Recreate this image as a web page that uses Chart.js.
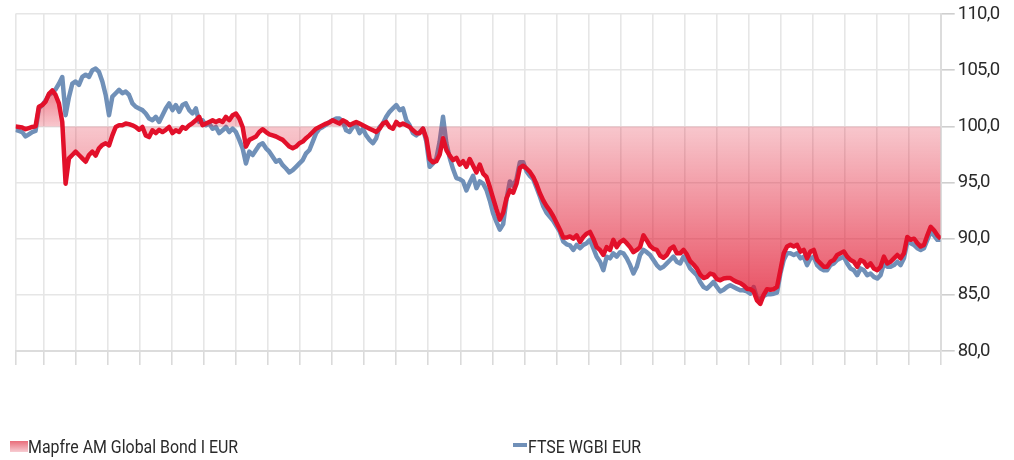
<!DOCTYPE html>
<html>
<head>
<meta charset="utf-8">
<script src="https://cdn.jsdelivr.net/npm/chart.js@4.4.1/dist/chart.umd.min.js"></script>
<style>
html,body{margin:0;padding:0;background:#fff;}
#wrap{position:relative;width:1014px;height:460px;overflow:hidden;}
#c{position:absolute;left:0;top:0;}
.lt{position:absolute;top:437px;font-family:Roboto,"Liberation Sans",sans-serif;font-size:18.5px;line-height:20px;color:#2a2a2a;white-space:nowrap;transform:scaleX(0.86);transform-origin:0 50%;}
#boxRed{position:absolute;left:10px;top:441px;width:18px;height:11px;background:linear-gradient(to bottom,#e96d7a,#f7ccd2);}
#lineBlue{position:absolute;left:513px;top:443px;width:14px;height:4px;background:#7090b8;}
</style>
</head>
<body>
<div id="wrap">
<canvas id="c" width="1014" height="460"></canvas>
<div id="boxRed"></div><div class="lt" style="left:28px">Mapfre AM Global Bond I EUR</div>
<div id="lineBlue"></div><div class="lt" style="left:528px">FTSE WGBI EUR</div>
</div>
<script>
// ---- DATA ----
const seriesNames = ["Mapfre AM Global Bond I EUR", "FTSE WGBI EUR"];

const mapfre = [
// segment 1
100.0,99.95,99.9,99.75,99.85,99.95,100.0,101.75,101.9,102.2,
102.9,103.2,102.8,102.05,100.4,94.9,97.15,97.45,97.75,97.45,
97.15,96.85,97.45,97.75,97.4,98.05,98.35,98.5,98.3,99.2,
99.95,100.1,100.1,100.25,100.2,100.1,99.95,99.7,99.95,99.2,
99.05,99.65,99.4,99.7,99.5,99.7,99.95,99.4,99.65,99.5,
99.95,99.8,100.1,100.3,100.55,
// segment 2
100.85,100.1,100.25,100.4,100.55,100.4,100.55,100.4,100.85,100.55,
101.0,101.15,100.7,99.95,98.2,98.8,98.95,99.1,99.5,99.75,
99.5,99.3,99.2,99.1,98.95,98.8,98.5,98.2,98.05,98.2,
98.5,98.65,98.95,99.2,99.5,99.8,99.95,100.1,100.25,100.35,
100.55,100.4,100.25,100.55,100.4,100.1,100.25,100.4,100.25,100.1,
99.95,99.8,99.65,99.5,99.8,100.25,100.4,
// segment 3
99.95,99.8,100.4,100.1,100.25,100.1,99.95,99.65,99.4,99.4,
99.8,98.95,97.1,96.8,96.9,97.5,98.95,97.9,97.4,97.0,
97.2,96.6,96.9,96.4,97.1,96.5,95.9,96.6,95.8,95.5,
94.6,93.6,92.6,91.7,92.3,93.6,94.3,94.1,94.9,96.3,
96.5,96.25,95.95,95.5,94.85,94.05,93.4,92.9,92.5,92.0,
91.4,90.8,90.1,90.1,90.2,
// segment 4
90.0,90.3,89.7,90.15,90.45,90.6,90.0,89.25,89.0,88.55,
89.25,89.0,89.9,89.25,89.7,89.9,89.6,89.25,88.8,89.0,
89.25,90.3,89.85,89.35,89.1,89.0,88.5,88.3,88.55,89.1,
89.3,88.7,88.7,89.0,88.6,88.0,87.7,87.35,86.8,86.5,
86.6,86.9,86.8,86.4,86.3,86.45,86.5,86.5,86.3,86.15,
86.05,85.85,85.55,85.5,85.3,84.5,84.2,
// segment 5
85.0,85.5,85.45,85.5,85.7,87.2,88.7,89.3,89.45,89.3,
89.45,88.85,89.0,88.25,88.85,89.0,88.1,87.8,87.5,87.5,
87.95,88.1,88.55,88.7,88.85,88.4,88.1,87.95,87.5,88.1,
87.95,87.5,87.8,87.35,87.2,87.5,88.4,87.8,87.95,88.25,
88.55,88.25,88.7,90.15,89.9,90.0,89.6,89.3,89.45,90.3,
91.05,90.75,90.3,90.0
];

const ftse = [
// segment 1
99.7,99.6,99.5,99.1,99.3,99.5,99.6,101.6,101.9,102.3,
102.8,103.0,103.3,103.8,104.4,101.0,102.6,103.8,104.0,103.7,
104.4,104.6,104.4,105.0,105.15,104.85,104.0,102.8,101.0,102.65,
102.95,103.25,102.95,103.1,102.8,102.05,101.75,101.6,101.45,101.15,
100.7,100.55,100.85,100.4,101.0,101.6,102.05,101.45,101.9,101.3,
101.9,102.05,101.45,101.15,101.6,
// segment 2
100.4,100.55,100.1,100.25,99.8,99.95,99.4,99.65,99.95,99.5,
99.8,99.5,98.8,98.05,96.7,97.75,97.45,97.9,98.35,98.5,
98.05,97.75,97.3,96.85,97.0,96.55,96.25,95.9,96.1,96.4,
96.7,97.0,97.6,97.9,98.65,99.4,99.8,99.95,100.15,100.4,
100.55,100.7,100.7,100.4,99.65,99.5,99.95,100.1,99.4,99.8,
99.2,98.8,98.5,98.95,99.95,100.25,100.85,
// segment 3
101.3,101.6,101.9,101.45,101.6,100.55,100.1,99.4,99.2,99.5,
99.8,98.65,96.4,96.7,97.15,98.65,100.85,98.5,97.2,96.2,
95.4,95.3,95.1,94.3,95.0,95.6,94.5,95.1,94.9,94.35,
93.4,92.25,91.5,90.8,91.3,93.5,95.1,94.7,95.3,96.8,
96.8,96.0,95.6,95.3,94.55,93.75,92.9,92.3,91.95,91.6,
91.1,90.6,89.75,89.5,89.4,
// segment 4
89.0,89.45,89.15,89.45,89.6,89.9,89.15,88.4,87.95,87.2,
88.4,88.25,88.7,88.4,88.8,88.7,88.25,87.65,86.9,87.5,
88.55,89.0,88.8,88.55,88.1,87.65,87.35,87.5,87.8,88.1,
88.4,87.95,87.8,88.4,87.95,87.35,87.05,86.75,86.15,85.7,
85.55,85.85,86.15,85.7,85.3,85.45,85.7,85.85,85.7,85.55,
85.4,85.4,85.3,85.1,85.7,84.7,84.6,
// segment 5
84.9,85.05,85.05,85.1,85.2,86.9,88.1,88.7,88.7,88.55,
88.7,88.25,88.4,87.65,88.25,88.4,87.65,87.35,87.2,87.2,
87.65,87.8,88.1,88.25,88.4,87.8,87.35,87.2,86.75,87.35,
87.2,86.75,86.9,86.6,86.45,86.75,87.8,87.5,87.5,87.65,
87.95,87.65,88.25,89.7,89.6,89.45,89.15,89.0,89.15,89.9,
90.6,90.3,89.9,89.9
];

const yMin = 80, yMax = 110, yStep = 5;
const baseline = 100;
// x-axis month grid: first month boundary and month length, in data steps
const firstMonthTick = 8.39, monthLength = 9.6, monthCount = 28;

// ---- BUILD ----
const lastIndex = mapfre.length - 1;
const toPoints = arr => arr.map((v, i) => ({x: i, y: v}));
const xTicks = [0];
for (let k = 0; k < monthCount; k++) xTicks.push(firstMonthTick + k * monthLength);
xTicks.push(lastIndex);

function fillGradient(context) {
  const chart = context.chart;
  const area = chart.chartArea;
  if (!area) return 'rgba(225,20,45,0.4)';
  const y = chart.scales.y;
  const top = y.getPixelForValue(104), mid = y.getPixelForValue(baseline), bot = y.getPixelForValue(84);
  const g = chart.ctx.createLinearGradient(0, top, 0, bot);
  g.addColorStop(0, 'rgba(225,20,45,0.62)');
  g.addColorStop((mid - top) / (bot - top), 'rgba(225,20,45,0.24)');
  g.addColorStop(1, 'rgba(225,20,45,0.76)');
  return g;
}

const tightText = {
  id: 'tightText',
  beforeDraw(chart) { chart.ctx.letterSpacing = '-0.7px'; }
};

new Chart(document.getElementById('c'), {
  type: 'line',
  plugins: [tightText],
  data: {
    datasets: [
      {
        label: seriesNames[0],
        data: toPoints(mapfre),
        borderColor: '#e2102a',
        borderWidth: 4.5,
        pointRadius: 0,
        tension: 0,
        fill: {value: baseline},
        backgroundColor: fillGradient,
        borderJoinStyle: 'round'
      },
      {
        label: seriesNames[1],
        data: toPoints(ftse),
        borderColor: '#7090b8',
        borderWidth: 4.5,
        pointRadius: 0,
        tension: 0,
        fill: false,
        borderJoinStyle: 'round'
      }
    ]
  },
  options: {
    responsive: false,
    animation: false,
    events: [],
    layout: {padding: {left: 15.5, top: 14, right: 0, bottom: 95}},
    plugins: {legend: {display: false}, tooltip: {enabled: false}},
    scales: {
      x: {
        type: 'linear',
        min: 0,
        max: lastIndex,
        afterBuildTicks: s => { s.ticks = xTicks.map(v => ({value: v})); },
        afterFit: s => { s.height = 14; },
        ticks: {display: false},
        grid: {color: '#e6e6e6', lineWidth: 1.6, tickLength: 14, tickColor: '#dadada'},
        border: {display: true, color: '#dcdcdc', width: 2}
      },
      y: {
        position: 'right',
        min: yMin,
        max: yMax,
        afterFit: s => { s.width = 73.3; },
        ticks: {
          stepSize: yStep,
          padding: 3,
          color: '#2a2a2a',
          font: {family: 'Roboto, "Liberation Sans", sans-serif', size: 18.5},
          callback: v => v.toFixed(1).replace('.', ',')
        },
        grid: {color: '#e6e6e6', lineWidth: 1.6, tickLength: 14, tickColor: '#cfcfcf'},
        border: {display: true, color: '#dcdcdc', width: 2}
      }
    }
  }
});
</script>
</body>
</html>
